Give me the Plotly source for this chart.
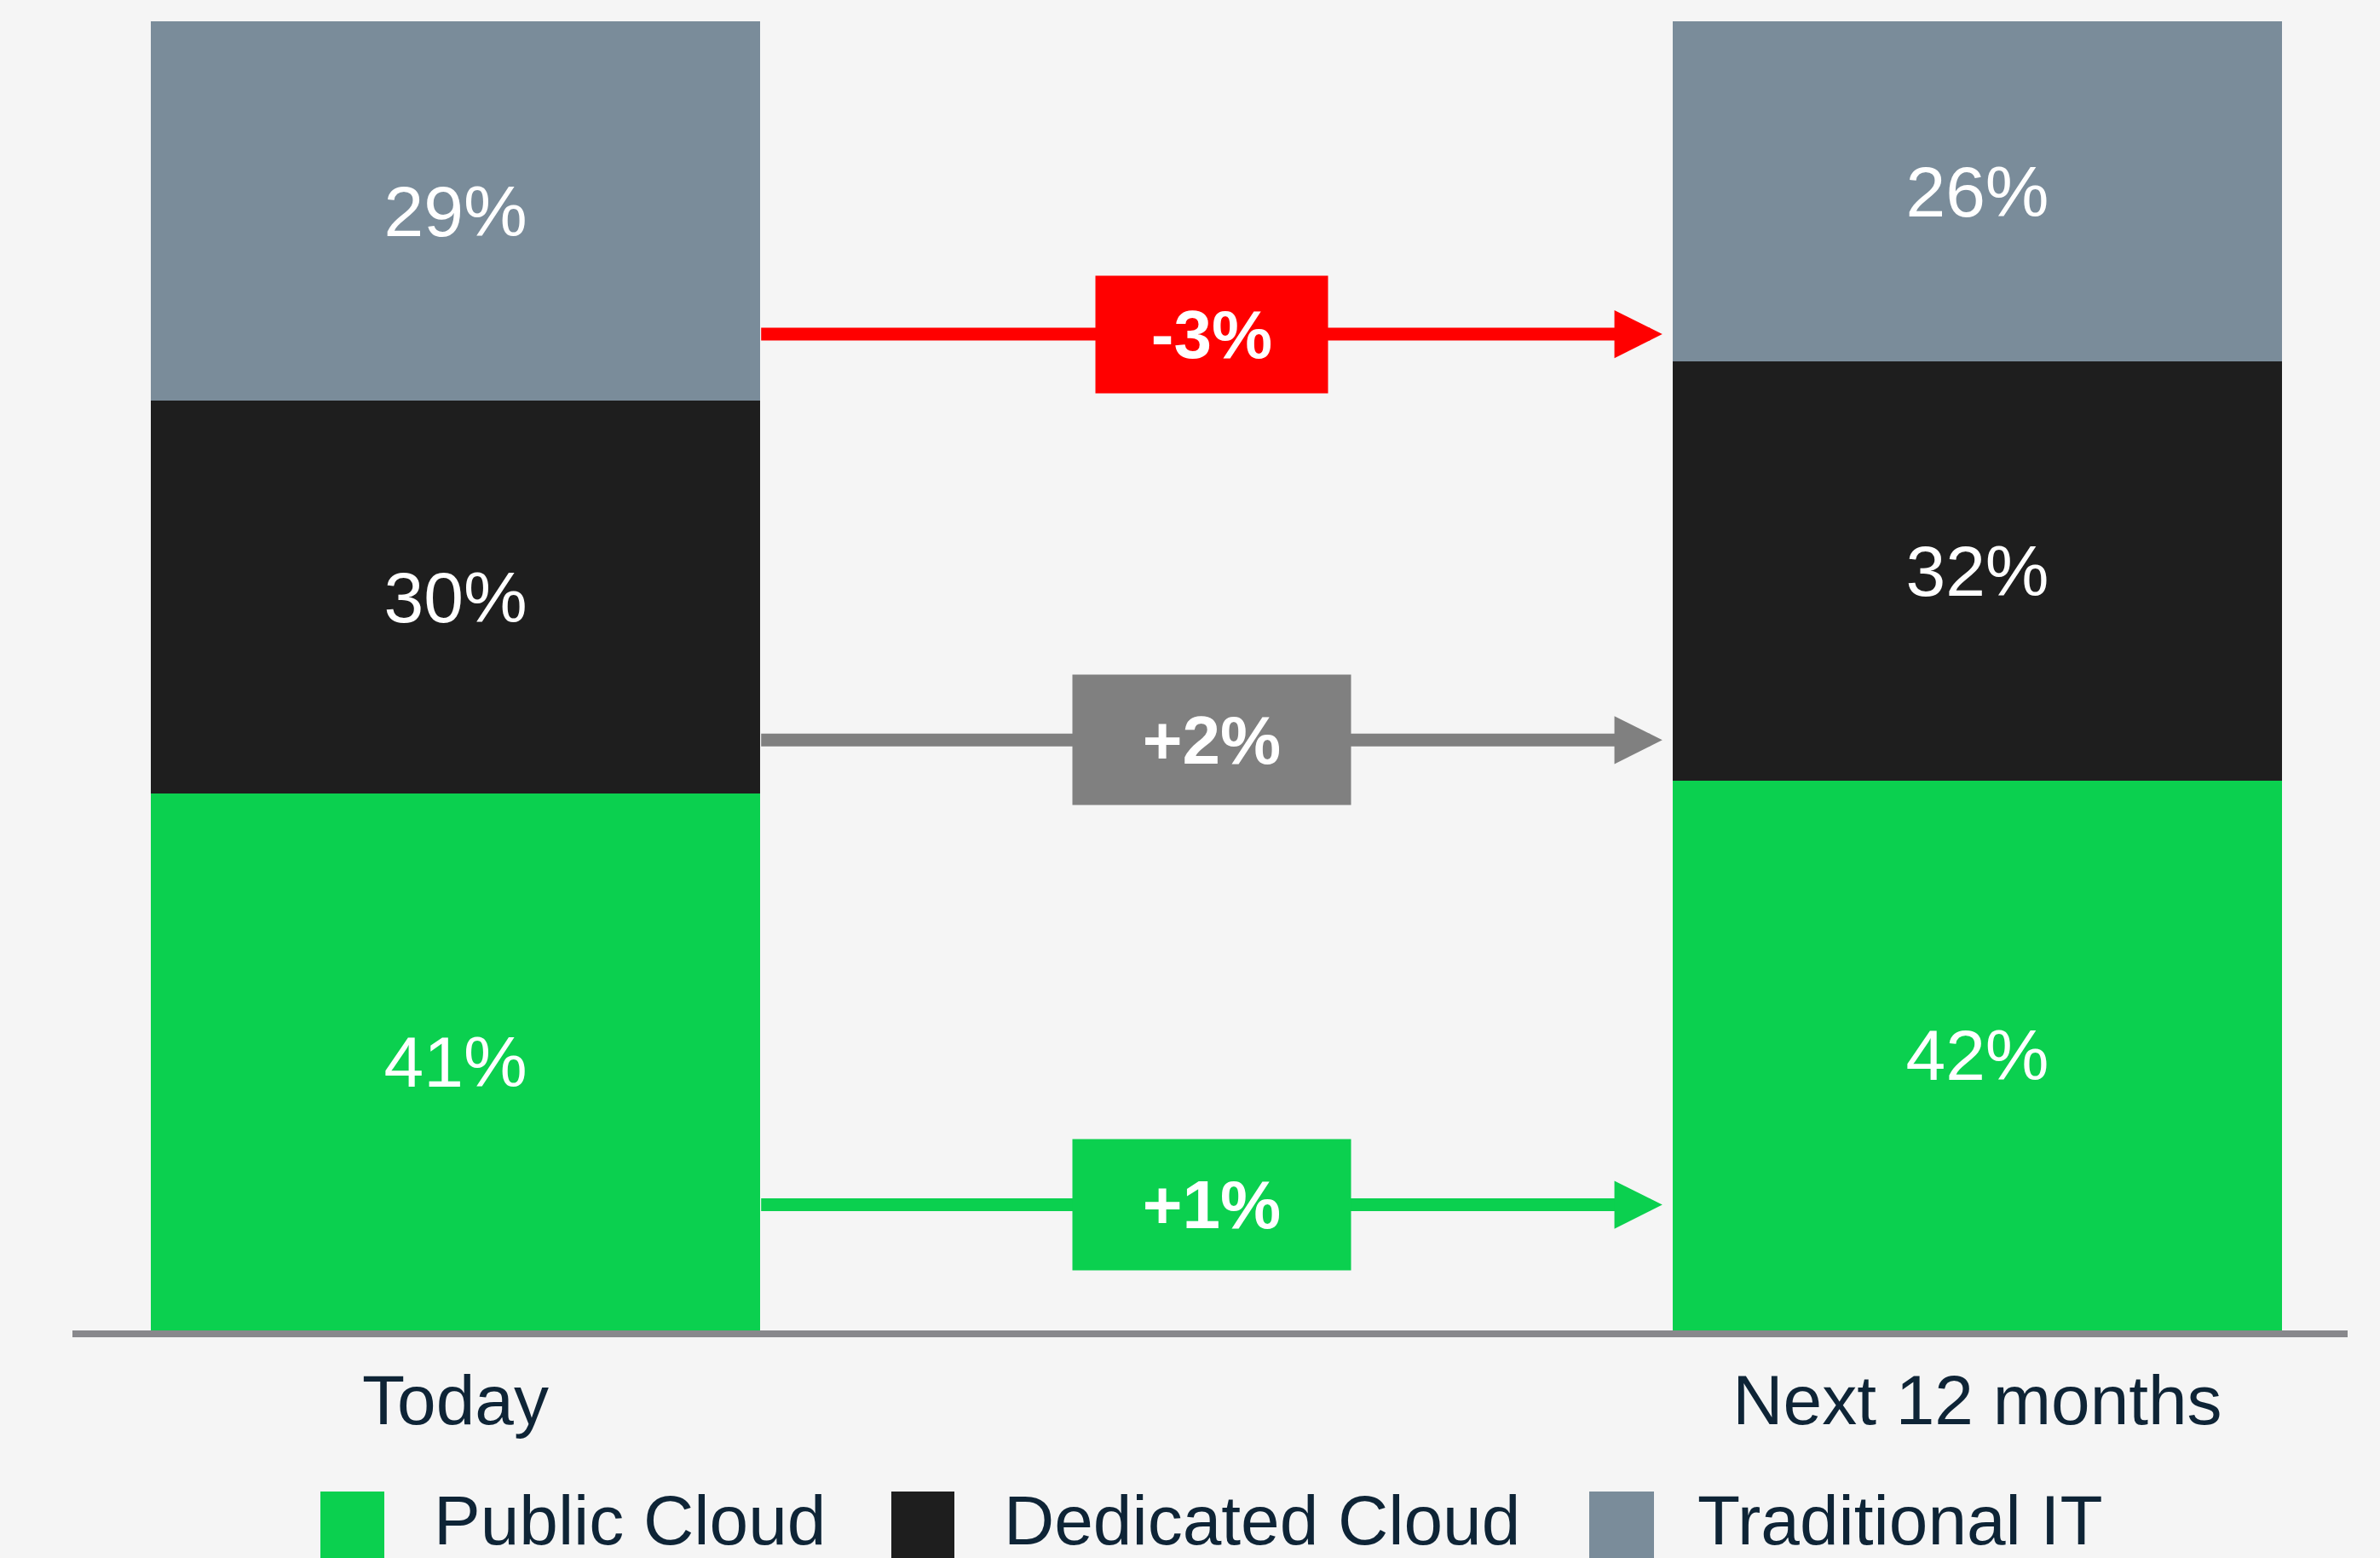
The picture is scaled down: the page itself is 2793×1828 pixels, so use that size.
import plotly.graph_objects as go

# ---------------- data ----------------
categories = ["Today", "Next 12 months"]
series_names = ["Public Cloud", "Dedicated Cloud", "Traditional IT"]
public_cloud = [41, 42]
dedicated_cloud = [30, 32]
traditional_it = [29, 26]
change_labels = ["-3%", "+2%", "+1%"]          # Traditional IT, Dedicated Cloud, Public Cloud

# ---------------- styles ----------------
W, H = 2793, 1828
ML, MR, MT, MB = 85, 38, 25, 267
BG = "#F5F5F5"
FONT = "Liberation Sans, Arial, Helvetica, sans-serif"
TEXT_DARK = "#0E2436"
COL_PUBLIC = "#0BD04F"
COL_DEDICATED = "#1E1E1E"
COL_TRAD = "#7A8C9A"
ARROW_COLORS = ["#FF0000", "#808080", "#0BD04F"]
ARROW_Y = [76.1, 45.1, 9.6]          # vertical placement of change arrows (axis units)
BOX_W = [272, 326, 326]
BOX_H = [137, 152, 153]
BAR_W = 0.4

PW = W - ML - MR
PH = H - MT - MB


def px_to_paper_x(px):
    return (px - ML) / PW


def px_to_paper_y(py):
    return (H - MB - py) / PH


fig = go.Figure()
for name, vals, col in [
    (series_names[0], public_cloud, COL_PUBLIC),
    (series_names[1], dedicated_cloud, COL_DEDICATED),
    (series_names[2], traditional_it, COL_TRAD),
]:
    fig.add_trace(go.Bar(
        x=categories, y=vals, name=name, width=BAR_W,
        marker=dict(color=col, line=dict(width=0)),
        texttemplate="%{y}%", textposition="inside", insidetextanchor="middle",
        textangle=0, constraintext="none",
        textfont=dict(family=FONT, size=84, color="white"),
        showlegend=False, hoverinfo="skip",
    ))

annotations = []
x_start = BAR_W / 2
x_end = 1 - BAR_W / 2 - 0.007
x_mid = 0.497
for lab, col, yv, bw, bh in zip(change_labels, ARROW_COLORS, ARROW_Y, BOX_W, BOX_H):
    annotations.append(dict(
        x=x_end, y=yv, xref="x", yref="y",
        ax=x_start, ay=yv, axref="x", ayref="y",
        text="", showarrow=True, arrowhead=2, arrowsize=0.75, arrowwidth=15,
        arrowcolor=col, standoff=0, startstandoff=0,
    ))
    annotations.append(dict(
        x=x_mid, y=yv, xref="x", yref="y", showarrow=False,
        text="<b>" + lab + "</b>", width=bw, height=bh, borderpad=0,
        bgcolor=col, xanchor="center", yanchor="middle", valign="middle",
        font=dict(family=FONT, size=80, color="white"),
    ))

# manual legend (large swatches)
shapes = []
legend_items = [
    (series_names[0], COL_PUBLIC, 376, 451, 507),
    (series_names[1], COL_DEDICATED, 1046, 1120, 1176),
    (series_names[2], COL_TRAD, 1865, 1941, 1990),
]
for name, col, x0, x1, tx in legend_items:
    shapes.append(dict(
        type="rect", xref="paper", yref="paper",
        x0=px_to_paper_x(x0), x1=px_to_paper_x(x1),
        y0=px_to_paper_y(1750), y1=px_to_paper_y(1840),
        fillcolor=col, line=dict(width=0), layer="above",
    ))
    annotations.append(dict(
        x=px_to_paper_x(tx), y=px_to_paper_y(1783), xref="paper", yref="paper",
        text=name, showarrow=False, xanchor="left", yanchor="middle",
        font=dict(family=FONT, size=82, color=TEXT_DARK),
    ))

fig.update_layout(
    width=W, height=H, autosize=False,
    margin=dict(l=ML, r=MR, t=MT, b=MB, pad=0),
    paper_bgcolor=BG, plot_bgcolor=BG,
    barmode="stack",
    font=dict(family=FONT, color=TEXT_DARK),
    xaxis=dict(
        range=[-0.2517, 1.2433], showgrid=False, zeroline=False,
        showline=True, linecolor="#88888C", linewidth=8,
        ticks="", ticklabelstandoff=4,
        tickfont=dict(family=FONT, size=82, color=TEXT_DARK),
        fixedrange=True,
    ),
    yaxis=dict(range=[0, 100], visible=False, fixedrange=True),
    annotations=annotations,
    shapes=shapes,
    showlegend=False,
)

fig.write_html(
    "out.html",
    config={"displayModeBar": False},
    post_script="document.body.style.margin='0';document.body.style.overflow='hidden';",
)
